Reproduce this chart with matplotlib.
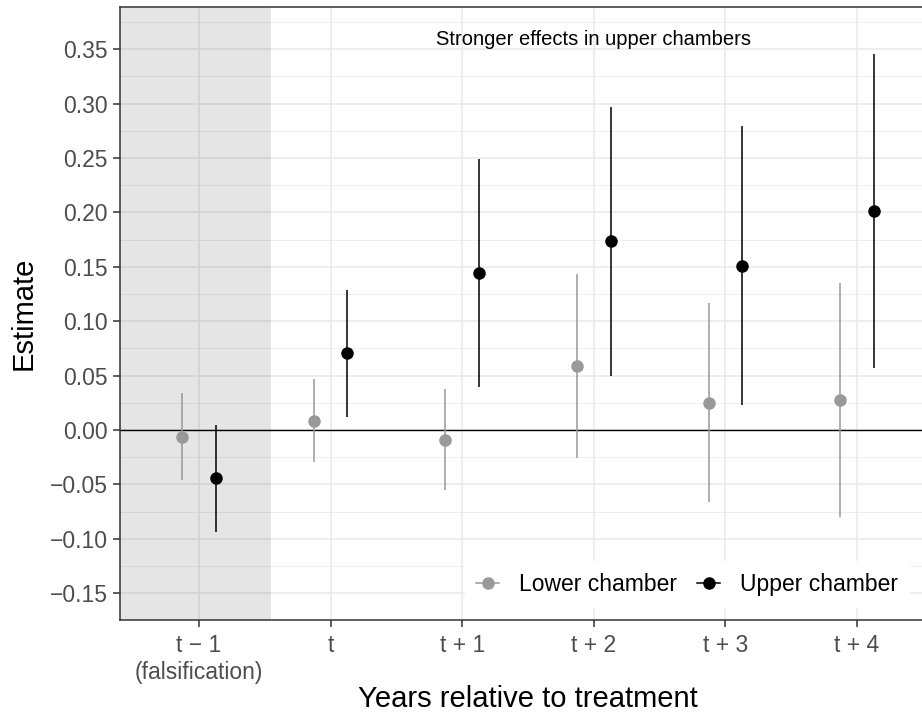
import matplotlib
matplotlib.use("Agg")
import matplotlib.pyplot as plt
from matplotlib.lines import Line2D
from matplotlib.ticker import FuncFormatter, MultipleLocator
import numpy as np

plt.rcParams['font.family'] = ['Liberation Sans', 'DejaVu Sans']

categories = ["t \u2212 1\n(falsification)", "t", "t + 1", "t + 2", "t + 3", "t + 4"]
lower_est = [-0.006, 0.0086, -0.0092, 0.0585, 0.0251, 0.0276]
lower_lo = [-0.046, -0.029, -0.055, -0.026, -0.0665, -0.0797]
lower_hi = [0.0343, 0.0466, 0.0374, 0.1431, 0.1164, 0.1348]
upper_est = [-0.0444, 0.0705, 0.1442, 0.1734, 0.151, 0.2016]
upper_lo = [-0.0935, 0.0123, 0.0398, 0.0499, 0.023, 0.0573]
upper_hi = [0.0046, 0.1287, 0.2494, 0.2966, 0.2791, 0.3456]
series_names = ["Lower chamber", "Upper chamber"]
annotation = "Stronger effects in upper chambers"

W, H = 922, 713
fig = plt.figure(figsize=(W / 100, H / 100), dpi=100)
left_px, right_px, top_px, bot_px = 120, 936, 7, 620
ax = fig.add_axes([left_px / W, 1 - bot_px / H, (right_px - left_px) / W, (bot_px - top_px) / H])
panel_w = right_px - left_px
panel_h = bot_px - top_px

x = np.arange(1, len(categories) + 1)
dodge = 0.127
grey = "#999999"

ax.set_xlim(0.4, 6.6)
ax.set_ylim(-0.1746, 0.3888)

# grid
ax.yaxis.set_major_locator(MultipleLocator(0.05))
ax.yaxis.set_minor_locator(MultipleLocator(0.025))
ax.set_xticks(x)
ax.set_xticklabels(categories, linespacing=1.22)
ax.grid(which="major", axis="both", color="#EBEBEB", linewidth=1.2, zorder=0)
ax.grid(which="minor", axis="y", color="#EBEBEB", linewidth=0.6, zorder=0)
ax.set_axisbelow(True)

# shaded falsification region
ax.axvspan(0.4, 1.55, color="black", alpha=0.1, linewidth=0, zorder=1)

ax.axhline(0, color="black", linewidth=1.0, zorder=2)

# lower chamber
ax.vlines(x - dodge, lower_lo, lower_hi, color=grey, linewidth=1.1, zorder=3)
ax.plot(x - dodge, lower_est, "o", color=grey, markersize=8, zorder=4)
# upper chamber
ax.vlines(x + dodge, upper_lo, upper_hi, color="black", linewidth=1.1, zorder=3)
ax.plot(x + dodge, upper_est, "o", color="black", markersize=8, zorder=4)

ax.text(4, 0.359, annotation, ha="center", va="center", fontsize=14.5, color="black", zorder=5)

ax.yaxis.set_major_formatter(FuncFormatter(lambda v, p: f"{v:.2f}".replace("-", "\u2212")))
ax.tick_params(axis="both", which="major", colors="#333333", labelcolor="#4D4D4D",
               labelsize=16.5, length=5, width=1.1, pad=4)
ax.tick_params(axis="x", which="major", pad=5)
ax.tick_params(axis="y", which="minor", length=0)
for s in ax.spines.values():
    s.set_color("#333333")
    s.set_linewidth(1.1)

ax.set_ylabel("Estimate", fontsize=21, color="black")
ax.yaxis.set_label_coords(-(120 - 24) / panel_w, 0.5)
ax.yaxis.label.set_ha("center")
ax.yaxis.label.set_va("center")
ax.set_xlabel("Years relative to treatment", fontsize=21, color="black")
ax.xaxis.set_label_coords((528 - left_px) / panel_w, -(707 - bot_px) / panel_h)
ax.xaxis.label.set_va("baseline")

handles = [Line2D([0], [0], color=grey, marker="o", markersize=8, linewidth=1.1),
           Line2D([0], [0], color="black", marker="o", markersize=8, linewidth=1.1)]
leg = ax.legend(handles, series_names, loc="lower right",
                bbox_to_anchor=((909 - left_px) / panel_w, 0.021),
                ncol=2, frameon=True, fontsize=16.5, handlelength=1.0, handletextpad=0.85,
                columnspacing=0.9, borderpad=0.5, borderaxespad=0.0, fancybox=False)
leg.get_frame().set_facecolor("white")
leg.get_frame().set_edgecolor("white")
leg.get_frame().set_alpha(1)
leg.set_zorder(6)

fig.savefig("out.png", dpi=100)
